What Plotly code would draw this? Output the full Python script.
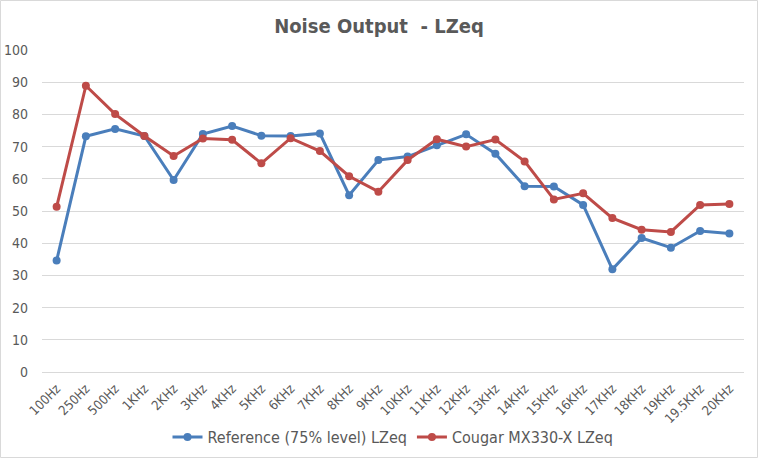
import plotly.graph_objects as go

categories = ["100Hz", "250Hz", "500Hz", "1KHz", "2KHz", "3KHz", "4KHz", "5KHz", "6KHz",
              "7KHz", "8KHz", "9KHz", "10KHz", "11KHz", "12KHz", "13KHz", "14KHz", "15KHz",
              "16KHz", "17KHz", "18KHz", "19KHz", "19.5KHz", "20KHz"]
reference = [34.6, 73.2, 75.5, 73.3, 59.6, 73.9, 76.4, 73.4, 73.3, 74.1, 54.9, 65.8,
             66.9, 70.4, 73.8, 67.8, 57.7, 57.6, 51.9, 31.9, 41.6, 38.6, 43.8, 43.0]
cougar = [51.3, 88.9, 80.1, 73.3, 67.1, 72.5, 72.1, 64.8, 72.6, 68.6, 60.8, 56.0,
          65.8, 72.3, 70.0, 72.2, 65.4, 53.6, 55.5, 47.8, 44.2, 43.5, 51.9, 52.2]
series_names = ["Reference (75% level) LZeq", "Cougar MX330-X LZeq"]
y_ticks = list(range(0, 101, 10))

FONT = "DejaVu Sans Condensed, Liberation Sans Narrow, Liberation Sans, sans-serif"
TXT = "#595959"

fig = go.Figure()
fig.add_trace(go.Scatter(x=categories, y=reference, name=series_names[0], mode="lines+markers",
                         line=dict(color="#4A7EBB", width=3), marker=dict(size=8, color="#4A7EBB")))
fig.add_trace(go.Scatter(x=categories, y=cougar, name=series_names[1], mode="lines+markers",
                         line=dict(color="#BE4B48", width=3), marker=dict(size=8, color="#BE4B48")))

L, R, T, B = 42, 14, 50, 86
W, H = 758, 458
pw, ph = W - L - R, H - T - B

fig.update_layout(
    width=W, height=H,
    margin=dict(l=L, r=R, t=T, b=B, autoexpand=False),
    paper_bgcolor="white", plot_bgcolor="white",
    font=dict(family=FONT, color=TXT, size=13),
    title=dict(text="<b>Noise Output  - LZeq</b>", x=0.5, xanchor="center", y=1 - 26 / H,
               yanchor="middle", font=dict(size=20, color=TXT, family=FONT)),
    xaxis=dict(type="category", range=[-0.5, len(categories) - 0.5], tickangle=-45,
               showgrid=False, showline=True, automargin=False, ticklabelstandoff=3,
               linecolor="#D9D9D9", linewidth=1, ticks="", tickfont=dict(size=13, color=TXT)),
    yaxis=dict(range=[0, 100], tickvals=y_ticks, showgrid=True, gridcolor="#D9D9D9",
               gridwidth=1, zeroline=False, showline=False, ticks="", automargin=False,
               ticklabelstandoff=13, tickfont=dict(size=14, color=TXT)),
    legend=dict(orientation="h", x=0.5, xanchor="center", y=(H - 437 - B) / ph,
                yanchor="middle", font=dict(size=16, color=TXT), itemwidth=30),
    showlegend=True,
    shapes=[dict(type="rect", xref="paper", yref="paper",
                 x0=(0.5 - L) / pw, x1=(W - 0.5 - L) / pw,
                 y0=(0.5 - B) / ph, y1=(H - 0.5 - B) / ph,
                 line=dict(color="#D9D9D9", width=1), layer="below")],
)

fig.write_html("out.html", config={"displayModeBar": False},
               post_script="document.body.style.margin='0';")
